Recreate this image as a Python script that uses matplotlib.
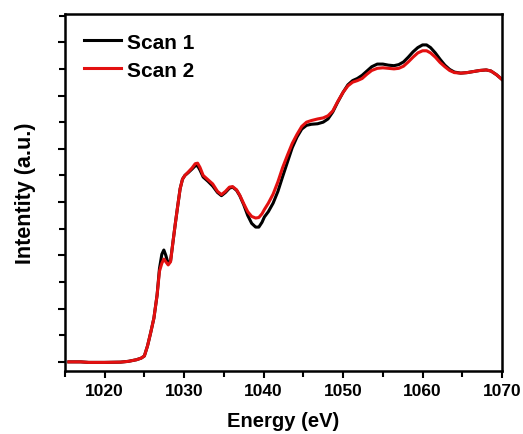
import matplotlib
matplotlib.use("Agg")
import matplotlib.pyplot as plt
from matplotlib.ticker import MultipleLocator, NullFormatter

plt.rcParams['font.family'] = ['Liberation Sans', 'DejaVu Sans']
plt.rcParams['font.weight'] = 'bold'

energy = [1015.5, 1017, 1018, 1020, 1022, 1023, 1024, 1024.6, 1025.0, 1025.4,
          1025.8, 1026.2, 1026.6, 1026.9, 1027.2, 1027.45, 1027.7, 1028.0, 1028.3, 1028.6,
          1028.9, 1029.2, 1029.5, 1029.8, 1030.1, 1030.5, 1031.0, 1031.4, 1031.7, 1032.0,
          1032.4, 1033.0, 1033.6, 1034.2, 1034.7, 1035.2, 1035.7, 1036.1, 1036.6, 1037.0,
          1037.5, 1038.0, 1038.5, 1039.0, 1039.4, 1039.8, 1040.1, 1040.6, 1041.2, 1041.8,
          1042.4, 1043.0, 1043.6, 1044.2, 1044.8, 1045.4, 1046.0, 1046.8, 1047.5, 1048.1,
          1048.7, 1049.3, 1050.0, 1050.6, 1051.2, 1051.8, 1052.4, 1053.0, 1053.6, 1054.3,
          1055.0, 1055.7, 1056.4, 1057.0, 1057.6, 1058.2, 1058.8, 1059.4, 1060.0, 1060.5,
          1061.0, 1061.6, 1062.2, 1062.8, 1063.4, 1064.0, 1064.8, 1065.6, 1066.4, 1067.2,
          1068.0, 1068.6, 1069.3, 1070.0]

scan1 = [0.0, 0.0, -0.01, -0.01, -0.005, 0.01, 0.04, 0.07, 0.11, 0.30,
         0.55, 0.82, 1.25, 1.75, 2.02, 2.10, 2.00, 1.84, 1.90, 2.25,
         2.60, 2.93, 3.25, 3.43, 3.50, 3.55, 3.62, 3.68, 3.68, 3.60,
         3.47, 3.39, 3.30, 3.18, 3.12, 3.18, 3.26, 3.28, 3.22, 3.12,
         2.95, 2.75, 2.60, 2.53, 2.53, 2.62, 2.72, 2.82, 2.98, 3.20,
         3.48, 3.75, 4.02, 4.22, 4.37, 4.44, 4.46, 4.47, 4.50, 4.56,
         4.69, 4.87, 5.06, 5.20, 5.28, 5.32, 5.38, 5.46, 5.54, 5.59,
         5.59, 5.57, 5.56, 5.58, 5.63, 5.72, 5.82, 5.90, 5.95, 5.95,
         5.90, 5.80, 5.68, 5.57, 5.49, 5.44, 5.42, 5.43, 5.45, 5.47,
         5.48, 5.46, 5.39, 5.30]

scan2 = [0.0, 0.0, -0.01, -0.01, -0.005, 0.01, 0.04, 0.07, 0.11, 0.30,
         0.55, 0.82, 1.25, 1.70, 1.85, 1.93, 1.88, 1.82, 1.88, 2.25,
         2.60, 2.93, 3.25, 3.43, 3.50, 3.56, 3.64, 3.72, 3.73, 3.65,
         3.50, 3.42, 3.34, 3.20, 3.14, 3.20, 3.28, 3.29, 3.23, 3.13,
         2.97, 2.82, 2.73, 2.70, 2.71, 2.78, 2.86, 2.98, 3.15, 3.38,
         3.65, 3.88, 4.10, 4.27, 4.42, 4.50, 4.53, 4.56, 4.58, 4.62,
         4.71, 4.88, 5.06, 5.18, 5.25, 5.28, 5.32, 5.40, 5.47, 5.51,
         5.52, 5.51, 5.50, 5.51, 5.55, 5.63, 5.72, 5.80, 5.84, 5.84,
         5.80, 5.72, 5.62, 5.54, 5.47, 5.43, 5.42, 5.43, 5.45, 5.47,
         5.48, 5.46, 5.39, 5.30]

fig = plt.figure(figsize=(5.23, 4.35), dpi=100)
ax = fig.add_axes([0.124, 0.145, 0.836, 0.8205])

ax.plot(energy, scan1, color='black', lw=2.2, label='Scan 1')
ax.plot(energy, scan2, color='#e31010', lw=2.2, label='Scan 2')

ax.set_xlim(1015, 1070)
ax.set_ylim(-0.17, 6.53)

ax.xaxis.set_major_locator(MultipleLocator(10))
ax.xaxis.set_minor_locator(MultipleLocator(5))
ax.yaxis.set_major_locator(MultipleLocator(1))
ax.yaxis.set_minor_locator(MultipleLocator(0.5))
ax.yaxis.set_major_formatter(NullFormatter())

ax.tick_params(axis='both', which='major', direction='out', length=5, width=1.5)
ax.tick_params(axis='both', which='minor', direction='out', length=4, width=1.5)
ax.tick_params(axis='x', labelsize=12.5, pad=4)
for lbl in ax.get_xticklabels():
    lbl.set_fontweight('bold')
for s in ax.spines.values():
    s.set_linewidth(1.8)

ax.set_xlabel('Energy (eV)', fontsize=14.5, fontweight='bold', labelpad=9)
ax.set_ylabel('Intentity (a.u.)', fontsize=15.5, fontweight='bold', labelpad=12)

leg = ax.legend(loc='upper left', frameon=False, fontsize=15, handlelength=1.8,
                handletextpad=0.3, labelspacing=0.42, borderaxespad=0.55,
                borderpad=0.35)
for t in leg.get_texts():
    t.set_fontweight('bold')

fig.savefig('out.png', dpi=100)
